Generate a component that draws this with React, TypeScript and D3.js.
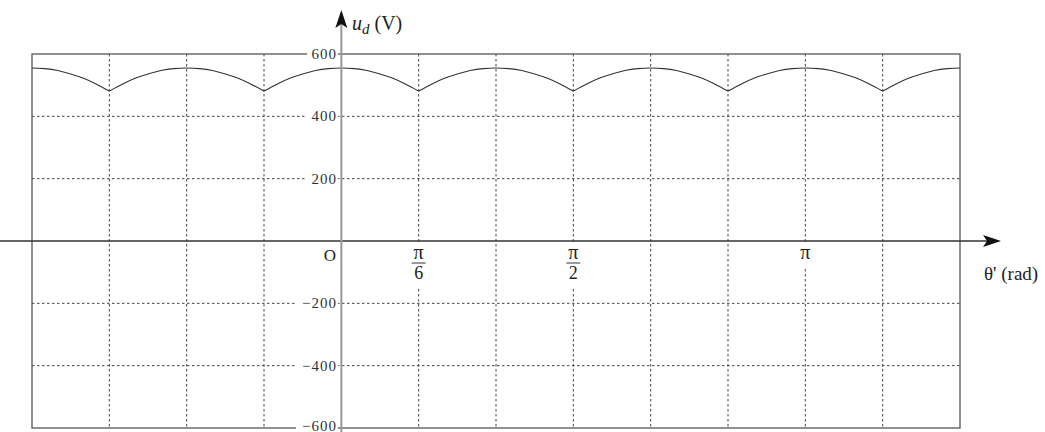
import * as d3 from 'd3';

// peaks of the six-pulse output, in multiples of pi/6
const peakPositions = [-4, -2, 0, 2, 4, 6, 8];
// shape of one arc: angle offset (deg) -> u_d (V)
const arcOffsetsDeg = [-30, -25, -20, -15, -10, -5, 0, 5, 10, 15, 20, 25, 30];
const arcValues = [481, 503, 522, 536, 547, 553, 555, 553, 547, 536, 522, 503, 481];

const yTicks = [600, 400, 200, -200, -400, -600];
const gridSteps = [-3, -2, -1, 1, 2, 3, 4, 5, 6, 7]; // vertical dashed grid, multiples of pi/6
const xLabels = [
  { step: 1, num: 'π', den: '6' },
  { step: 3, num: 'π', den: '2' },
  { step: 6, num: 'π', den: '' },
];

const W = 1045;
const H = 432;
const serif = '"Liberation Serif", "DejaVu Serif", serif';

const App = () => {
  const x = d3.scaleLinear().domain([(-4 * Math.PI) / 6, (8 * Math.PI) / 6]).range([32, 960]);
  const y = d3.scaleLinear().domain([-600, 600]).range([428, 54]);
  const x0 = x(0);
  const y0 = y(0);

  const line = d3
    .line<[number, number]>()
    .x((d) => x(d[0]))
    .y((d) => y(d[1]))
    .curve(d3.curveNatural);

  const arcs = peakPositions.map((p) =>
    arcOffsetsDeg.map((o, i) => [(p * Math.PI) / 6 + (o * Math.PI) / 180, arcValues[i]] as [number, number])
  );

  const frame = { x1: x.range()[0], x2: x.range()[1], y1: y(600), y2: y(-600) };
  const gridColor = '#444';

  return (
    <svg width={W} height={H} style={{ position: 'absolute', left: 0, top: 0, background: '#fff' }}>
      <defs>
        <clipPath id="frame-clip">
          <rect x={frame.x1} y={frame.y1 - 2} width={frame.x2 - frame.x1} height={frame.y2 - frame.y1 + 4} />
        </clipPath>
      </defs>

      {/* dashed grid */}
      {gridSteps.map((s) => (
        <line
          key={'v' + s}
          x1={x((s * Math.PI) / 6)}
          x2={x((s * Math.PI) / 6)}
          y1={frame.y1}
          y2={frame.y2}
          stroke={gridColor}
          strokeWidth={1}
          strokeDasharray="2.5,2.5"
        />
      ))}
      {yTicks
        .filter((t) => Math.abs(t) !== 600)
        .map((t) => (
          <line
            key={'h' + t}
            x1={frame.x1}
            x2={frame.x2}
            y1={y(t)}
            y2={y(t)}
            stroke={gridColor}
            strokeWidth={1}
            strokeDasharray="2.5,2.5"
          />
        ))}

      {/* frame */}
      <rect
        x={frame.x1}
        y={frame.y1}
        width={frame.x2 - frame.x1}
        height={frame.y2 - frame.y1}
        fill="none"
        stroke="#555"
        strokeWidth={1.3}
      />

      {/* curve */}
      <g clipPath="url(#frame-clip)">
        {arcs.map((a, i) => (
          <path key={i} d={line(a) ?? ''} fill="none" stroke="#333" strokeWidth={1.1} />
        ))}
      </g>

      {/* x axis */}
      <line x1={0} x2={988} y1={y0} y2={y0} stroke="#333" strokeWidth={1.3} />
      <path d={`M1001,${y0} L983,${y0 - 6} L987,${y0} L983,${y0 + 6} Z`} fill="#111" />
      <text x={984} y={280} fontFamily={serif} fontSize={19} fill="#222">
        θ' (rad)
      </text>

      {/* y axis */}
      <line x1={x0} x2={x0} y1={22} y2={H} stroke="#999" strokeWidth={2} />
      <path d={`M${x0},10 L${x0 - 6},28 L${x0},24 L${x0 + 6},28 Z`} fill="#111" />
      <text x={352} y={30} fontFamily={serif} fontSize={20} fill="#222">
        <tspan fontStyle="italic">u</tspan>
        <tspan fontStyle="italic" fontSize={15} dy={4}>
          d
        </tspan>
        <tspan dy={-4}> (V)</tspan>
      </text>

      {/* y tick labels */}
      {yTicks.map((t) => {
        const label = t < 0 ? '−' + Math.abs(t) : String(t);
        const w = t < 0 ? 40 : 29;
        const base = t === -600 ? H - 1.5 : y(t) + 5;
        return (
          <g key={'yl' + t}>
            <rect x={338 - w - 2} y={base - 13} width={w + 2} height={15} fill="#fff" />
            <text
              x={337}
              y={base}
              textAnchor="end"
              fontFamily={serif}
              fontSize={15}
              letterSpacing={1}
              fill="#333"
            >
              {label}
            </text>
          </g>
        );
      })}

      {/* x tick labels */}
      <text x={330} y={261} textAnchor="middle" fontFamily={serif} fontSize={17} fill="#222">
        O
      </text>
      {xLabels.map((l) => {
        const cx = x((l.step * Math.PI) / 6);
        return (
          <g key={'xl' + l.step}>
            <rect x={cx - 10} y={y0 + 2} width={20} height={l.den ? 46 : 24} fill="#fff" />
            <text x={cx} y={y0 + 18} textAnchor="middle" fontFamily={serif} fontSize={20} fill="#222">
              {l.num}
            </text>
            {l.den && (
              <>
                <line x1={cx - 7} x2={cx + 7} y1={y0 + 22} y2={y0 + 22} stroke="#333" strokeWidth={1} />
                <text x={cx} y={y0 + 38} textAnchor="middle" fontFamily={serif} fontSize={18} fill="#222">
                  {l.den}
                </text>
              </>
            )}
          </g>
        );
      })}
    </svg>
  );
};

export default App;
